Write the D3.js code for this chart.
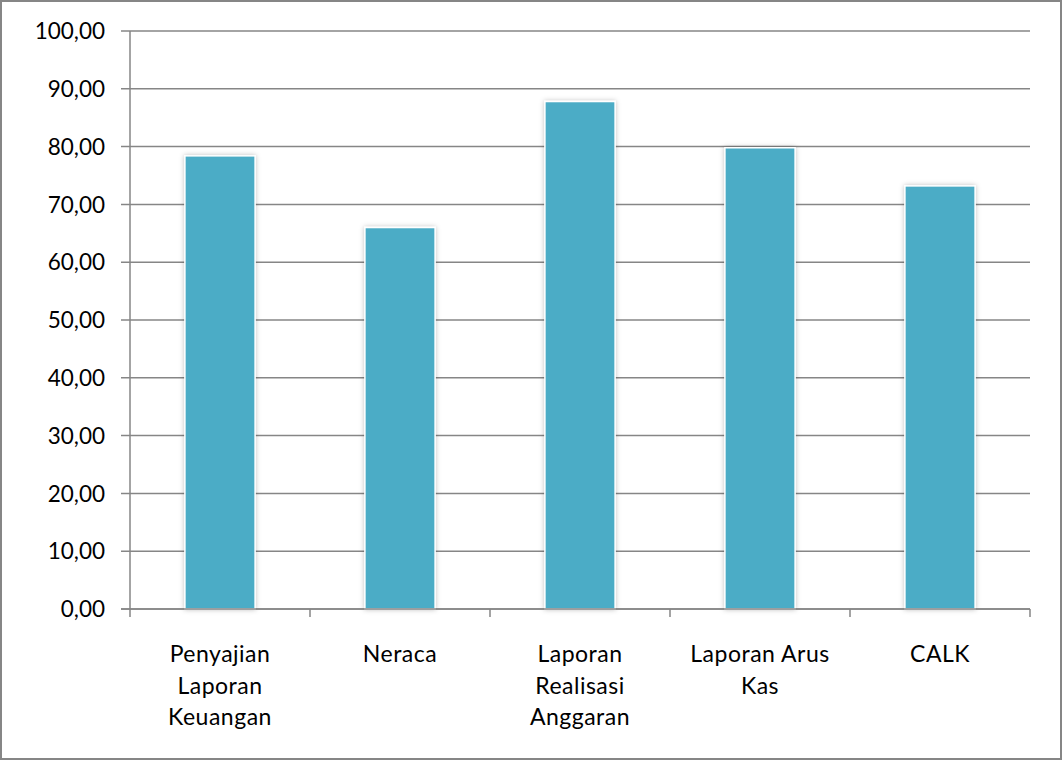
<!DOCTYPE html>
<html>
<head>
<meta charset="utf-8">
<script src="https://cdn.jsdelivr.net/npm/d3@7"></script>
<style>
    body { margin: 0; background: #fff; }
    svg { display: block; }
    text { font-family: Lato, "Open Sans", sans-serif; fill: #000; }
</style>
</head>
<body>
<div id="wrapper"></div>
<script>
const categories = [
    ["Penyajian", "Laporan", "Keuangan"],
    ["Neraca"],
    ["Laporan", "Realisasi", "Anggaran"],
    ["Laporan Arus", "Kas"],
    ["CALK"],
]
const values = [78.4, 66.0, 87.8, 79.8, 73.2]
const yTicks = [0, 10, 20, 30, 40, 50, 60, 70, 80, 90, 100]

function drawChart() {
    const dimensions = {
        width: 1064,
        height: 761,
        margin: {top: 31, right: 34, bottom: 152, left: 130},
    }
    dimensions.boundedWidth = dimensions.width - dimensions.margin.left - dimensions.margin.right
    dimensions.boundedHeight = dimensions.height - dimensions.margin.top - dimensions.margin.bottom

    const svg = d3.select("#wrapper")
        .append("svg")
        .attr("width", dimensions.width)
        .attr("height", dimensions.height)

    // outer frame
    svg.append("rect")
        .attr("x", 1)
        .attr("y", 1)
        .attr("width", 1060)
        .attr("height", 758)
        .attr("fill", "#fff")
        .attr("stroke", "#868686")
        .attr("stroke-width", 2)

    const defs = svg.append("defs")
    const filter = defs.append("filter")
        .attr("id", "shadow")
        .attr("x", "-20%").attr("y", "-5%")
        .attr("width", "140%").attr("height", "110%")
    filter.append("feDropShadow")
        .attr("dx", 0).attr("dy", 0)
        .attr("stdDeviation", 2.5)
        .attr("flood-color", "#000")
        .attr("flood-opacity", 0.25)

    const bounds = svg.append("g")
        .attr("transform", `translate(${dimensions.margin.left}, ${dimensions.margin.top})`)

    const xScale = d3.scaleBand()
        .domain(d3.range(categories.length))
        .range([0, dimensions.boundedWidth])
        .paddingInner(0.61)
        .paddingOuter(0.305)

    const yScale = d3.scaleLinear()
        .domain([0, 100])
        .range([dimensions.boundedHeight, 0])

    // gridlines
    bounds.append("g")
        .selectAll("line")
        .data(yTicks)
        .join("line")
        .attr("x1", -9)
        .attr("x2", dimensions.boundedWidth)
        .attr("y1", d => yScale(d))
        .attr("y2", d => yScale(d))
        .attr("stroke", "#868686")
        .attr("stroke-width", 1.5)

    // bars
    bounds.append("g")
        .selectAll("rect")
        .data(values)
        .join("rect")
        .attr("x", (d, i) => xScale(i))
        .attr("width", xScale.bandwidth())
        .attr("y", d => yScale(d))
        .attr("height", d => yScale(0) - yScale(d))
        .attr("fill", "#4BACC6")
        .attr("stroke", "#fff")
        .attr("stroke-width", 1.5)
        .attr("filter", "url(#shadow)")

    // y axis line
    bounds.append("line")
        .attr("x1", 0).attr("x2", 0)
        .attr("y1", 0).attr("y2", dimensions.boundedHeight)
        .attr("stroke", "#868686")
        .attr("stroke-width", 1.5)

    // x axis line + ticks between categories
    bounds.append("line")
        .attr("x1", -9).attr("x2", dimensions.boundedWidth)
        .attr("y1", dimensions.boundedHeight).attr("y2", dimensions.boundedHeight)
        .attr("stroke", "#868686")
        .attr("stroke-width", 1.5)
    const step = xScale.step()
    bounds.append("g")
        .selectAll("line")
        .data(d3.range(categories.length + 1))
        .join("line")
        .attr("x1", d => d * step)
        .attr("x2", d => d * step)
        .attr("y1", dimensions.boundedHeight)
        .attr("y2", dimensions.boundedHeight + 8)
        .attr("stroke", "#868686")
        .attr("stroke-width", 1.5)

    // y tick labels
    bounds.append("g")
        .selectAll("text")
        .data(yTicks)
        .join("text")
        .attr("x", -25)
        .attr("y", d => yScale(d))
        .attr("dy", "0.36em")
        .attr("text-anchor", "end")
        .style("font-size", "22.5px")
        .text(d => d3.format(".2f")(d).replace(".", ","))

    // category labels
    const labels = bounds.append("g")
        .selectAll("text")
        .data(categories)
        .join("text")
        .attr("text-anchor", "middle")
        .style("font-size", "23px")
        .style("letter-spacing", "0.5px")
        .attr("transform", (d, i) => `translate(${xScale(i) + xScale.bandwidth() / 2}, ${dimensions.boundedHeight + 53})`)
    labels.selectAll("tspan")
        .data(d => d)
        .join("tspan")
        .attr("x", 0)
        .attr("y", (d, i) => i * 31.5)
        .text(d => d)
}

drawChart()
</script>
</body>
</html>
